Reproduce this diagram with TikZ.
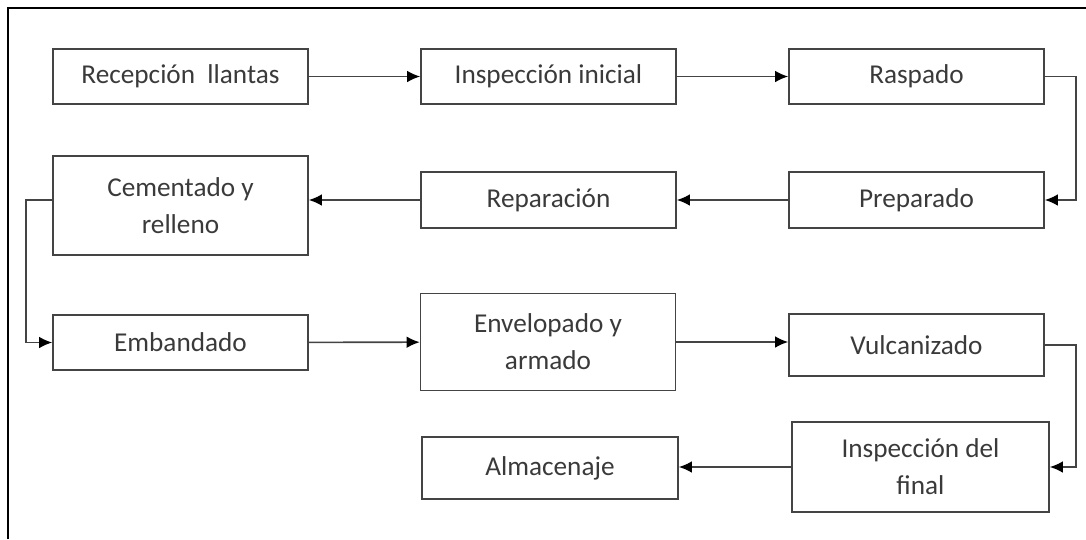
\documentclass[tikz,border=0pt]{standalone}
\usepackage{fontspec}
\setmainfont{Carlito}
\usepackage{tikz}
\usetikzlibrary{calc,positioning,arrows.meta}
\definecolor{linea}{HTML}{444444}
\definecolor{texto}{HTML}{3A3A3A}

\begin{document}
\begin{tikzpicture}[x=0.02cm, y=-0.02cm,
		paso/.style={draw=linea, line width=0.9pt, rectangle, inner sep=2pt, text=texto, align=center,
			minimum width=5.1cm, minimum height=1.1cm, font=\fontsize{15.5}{21}\selectfont},
		flecha/.style={draw=linea, line width=0.9pt, -{Latex[length=2.6mm,width=2.3mm,black]}}]
		\useasboundingbox (0,0) rectangle (1086,539);
		\draw[black, line width=1.2pt] (8,539) -- (8,8) -- (1086,8);
		% fila 1
		\node[paso] (rec) at (180.5,76.5){Recepción\ \ llantas};
		\node[paso] (ini) at (548.5,76.5){Inspección inicial};
		\node[paso] (ras) at (916.5,76.5){Raspado};
		% fila 2
		\node[paso, minimum height=1.12cm] (pre) at (916.5,200){Preparado};
		\node[paso, minimum height=1.12cm] (rep) at (548.5,200){Reparación};
		\node[paso, minimum height=1.98cm] (cem) at (180.5,205.5){Cementado y\\relleno};
		% fila 3
		\node[paso] (emb) at (180.5,342.5){Embandado};
		\node[paso, minimum height=1.94cm] (env) at (548,342){Envelopado y\\armado};
		\node[paso, minimum height=1.24cm] (vul) at (916.5,345){Vulcanizado};
		% fila 4
		\node[paso, minimum width=5.14cm, minimum height=1.8cm] (ins) at (920.5,467){Inspección del\\final};
		\node[paso, minimum width=5.12cm, minimum height=1.24cm] (alm) at (550,468){Almacenaje};
		% flechas
		\draw[flecha] (rec) -- (ini);
		\draw[flecha] (ini) -- (ras);
		\draw[flecha] (ras.east) -- ++(31,0) |- (pre.east);
		\draw[flecha] (pre) -- (rep);
		\draw[flecha] (rep.west) -- (rep.west -| cem.east);
		\draw[flecha] (rep.west -| cem.west) -- ++(-26,0) |- (emb.west);
		\draw[flecha] (emb) -- (env);
		\draw[flecha] (env.east) -- (env.east -| vul.west);
		\draw[flecha] (vul.east) -- ++(31,0) |- (ins.east);
		\draw[flecha] (ins.west) -- (ins.west -| alm.east);
	\end{tikzpicture}
\end{document}
